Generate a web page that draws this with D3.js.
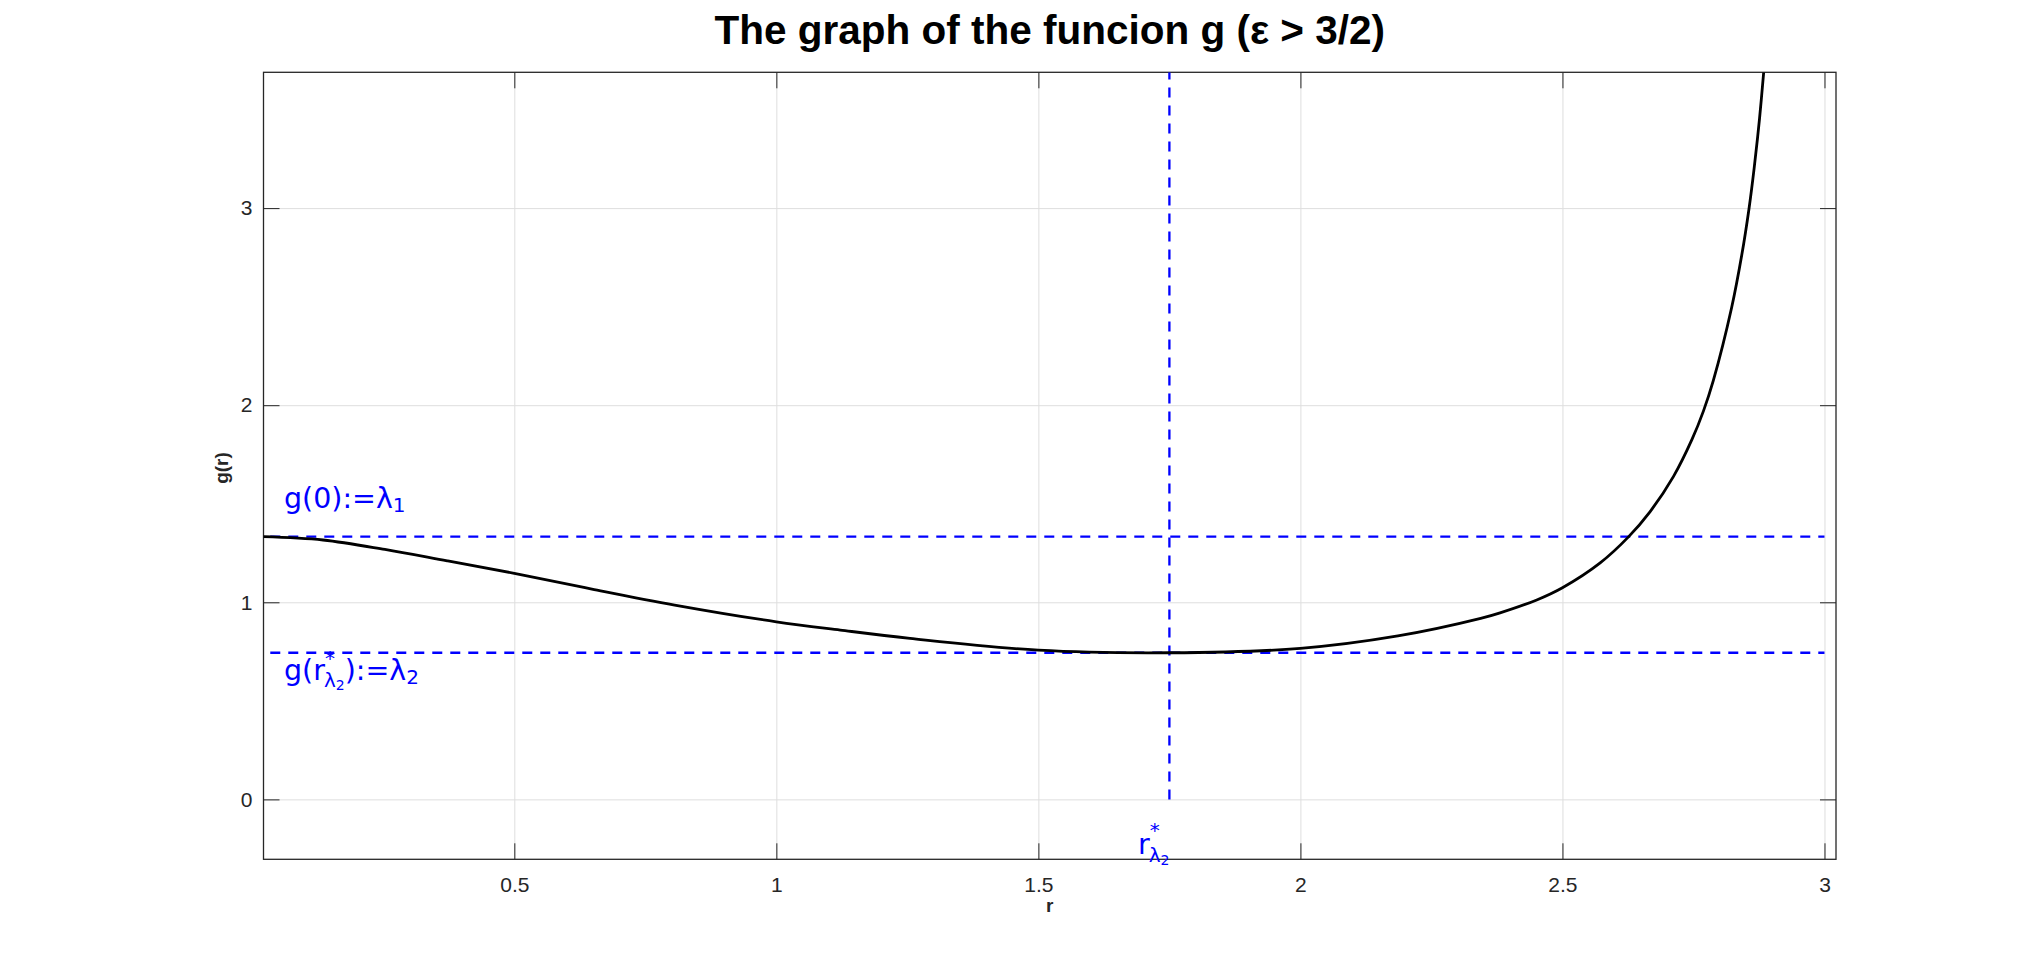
<!DOCTYPE html>
<html>
<head>
<meta charset="utf-8">
<script src="https://cdn.jsdelivr.net/npm/d3@7"></script>
<style>
  body { margin: 0; background: #fff; }
  .tick text { font-family: "Liberation Sans", Arial, sans-serif; font-size: 21px; fill: #262626; }
  .grid line { stroke: #dedede; stroke-width: 1; }
  .grid path { display: none; }
  .ax path { display: none; }
  .ax line { stroke: #262626; stroke-width: 1; }
  .lbl { font-family: "DejaVu Sans", sans-serif; fill: #0000ff; }
</style>
</head>
<body>
<svg id="chart" width="2028" height="965"></svg>
<script>
// values
var rVals = [0.021, 0.135, 0.253, 0.372, 0.5, 0.648, 0.806, 1.0, 1.122, 1.255, 1.5, 1.75, 2.0, 2.186, 2.344, 2.381, 2.451, 2.5, 2.572, 2.626, 2.667, 2.712, 2.747, 2.769, 2.788, 2.823, 2.842, 2.856, 2.866, 2.876, 2.884];
var gVals = [1.333, 1.316, 1.268, 1.21, 1.147, 1.067, 0.986, 0.901, 0.859, 0.817, 0.757, 0.744, 0.766, 0.829, 0.918, 0.946, 1.012, 1.074, 1.2, 1.332, 1.459, 1.639, 1.825, 1.97, 2.126, 2.497, 2.759, 2.997, 3.207, 3.452, 3.689];
var xTicks = [0.5, 1, 1.5, 2, 2.5, 3];
var xTickLabels = ["0.5", "1", "1.5", "2", "2.5", "3"];
var yTicks = [0, 1, 2, 3];
var yTickLabels = ["0", "1", "2", "3"];
var lambda1 = 1.333;   // g(0)
var lambda2 = 0.744;   // g(r*)
var rStar = 1.75;
var xDomain = [0.0214, 3.022];
var yDomain = [-0.304, 3.689];

var margin = {t: 72.3, r: 192, b: 105.7, l: 263.5};
var svg = d3.select('#chart');
var width = 2028 - margin.l - margin.r,
    height = 965 - margin.t - margin.b;

var x = d3.scaleLinear().domain(xDomain).range([0, width]);
var y = d3.scaleLinear().domain(yDomain).range([height, 0]);

var plot = svg.append('g').attr('transform', 'translate(' + margin.l + ',' + margin.t + ')');

svg.append('defs').append('clipPath').attr('id', 'clip')
  .append('rect').attr('width', width).attr('height', height);

// grid
plot.append('g').attr('class', 'grid').attr('transform', 'translate(0,' + height + ')')
  .call(d3.axisBottom(x).tickValues(xTicks).tickSize(-height).tickFormat(''));
plot.append('g').attr('class', 'grid')
  .call(d3.axisLeft(y).tickValues(yTicks).tickSize(-width).tickFormat(''));

// axes, ticks pointing inward on all sides
plot.append('g').attr('class', 'ax').attr('transform', 'translate(0,' + height + ')')
  .call(d3.axisBottom(x).tickValues(xTicks).tickSize(-16).tickPadding(17.5)
    .tickFormat(function(d, i){ return xTickLabels[i]; }));
plot.append('g').attr('class', 'ax')
  .call(d3.axisTop(x).tickValues(xTicks).tickSize(-16).tickFormat(''));
plot.append('g').attr('class', 'ax')
  .call(d3.axisLeft(y).tickValues(yTicks).tickSize(-16).tickPadding(11.2)
    .tickFormat(function(d, i){ return yTickLabels[i]; }));
plot.append('g').attr('class', 'ax').attr('transform', 'translate(' + width + ',0)')
  .call(d3.axisRight(y).tickValues(yTicks).tickSize(-16).tickFormat(''));

// box
plot.append('rect').attr('width', width).attr('height', height)
  .attr('fill', 'none').attr('stroke', '#262626').attr('stroke-width', 1.3);

var marks = plot.append('g').attr('clip-path', 'url(#clip)');

// dashed reference lines
var dash = '10,8';
marks.append('line')
  .attr('x1', x(0)).attr('x2', x(3))
  .attr('y1', y(lambda1)).attr('y2', y(lambda1))
  .attr('stroke', '#0000ff').attr('stroke-width', 2.3).attr('stroke-dasharray', dash);
marks.append('line')
  .attr('x1', x(0)).attr('x2', x(3))
  .attr('y1', y(lambda2)).attr('y2', y(lambda2))
  .attr('stroke', '#0000ff').attr('stroke-width', 2.3).attr('stroke-dasharray', dash);
marks.append('line')
  .attr('x1', x(rStar)).attr('x2', x(rStar))
  .attr('y1', y(0)).attr('y2', y(yDomain[1]))
  .attr('stroke', '#0000ff').attr('stroke-width', 2.3).attr('stroke-dasharray', dash);

// the curve
var pts = rVals.map(function(r, i){ return [r, gVals[i]]; });
var line = d3.line()
  .x(function(d){ return x(d[0]); })
  .y(function(d){ return y(d[1]); })
  .curve(d3.curveCatmullRom.alpha(0.5));
marks.append('path').datum(pts)
  .attr('d', line)
  .attr('fill', 'none')
  .attr('stroke', '#000')
  .attr('stroke-width', 2.8);

// annotations
var t1 = svg.append('text').attr('class', 'lbl')
  .attr('x', 284).attr('y', 508).attr('font-size', 28.5);
t1.append('tspan').text('g(0):=λ');
t1.append('tspan').attr('font-size', 20).attr('dy', 4).text('1');

var t2 = svg.append('text').attr('class', 'lbl')
  .attr('x', 284).attr('y', 680).attr('font-size', 28.5);
t2.append('tspan').text('g(r');
t2.append('tspan').attr('font-size', 20).attr('dy', -15).text('*');
t2.append('tspan').attr('font-size', 20).attr('dx', -11).attr('dy', 22).text('λ');
t2.append('tspan').attr('font-size', 14).attr('dy', 3).text('2');
t2.append('tspan').attr('dy', -10).text('):=λ');
t2.append('tspan').attr('font-size', 20).attr('dy', 4).text('2');

var t3 = svg.append('text').attr('class', 'lbl')
  .attr('x', 1138).attr('y', 854).attr('font-size', 28.5);
t3.append('tspan').text('r');
t3.append('tspan').attr('font-size', 20).attr('dy', -17).text('*');
t3.append('tspan').attr('font-size', 20).attr('dx', -11).attr('dy', 25).text('λ');
t3.append('tspan').attr('font-size', 14).attr('dy', 3).text('2');

// title and axis labels
svg.append('text')
  .attr('x', margin.l + width / 2).attr('y', 44)
  .attr('text-anchor', 'middle')
  .style('font-family', '"Liberation Sans", Arial, sans-serif')
  .style('font-weight', 'bold').style('font-size', '40.5px').style('fill', '#000')
  .text('The graph of the funcion g (ε > 3/2)');

svg.append('text')
  .attr('x', margin.l + width / 2).attr('y', 912)
  .attr('text-anchor', 'middle')
  .style('font-family', '"Liberation Sans", Arial, sans-serif')
  .style('font-weight', 'bold').style('font-size', '19px').style('fill', '#262626')
  .text('r');

svg.append('text')
  .attr('transform', 'translate(228,468) rotate(-90)')
  .attr('text-anchor', 'middle')
  .style('font-family', '"Liberation Sans", Arial, sans-serif')
  .style('font-weight', 'bold').style('font-size', '19px').style('fill', '#262626')
  .text('g(r)');
</script>
</body>
</html>
